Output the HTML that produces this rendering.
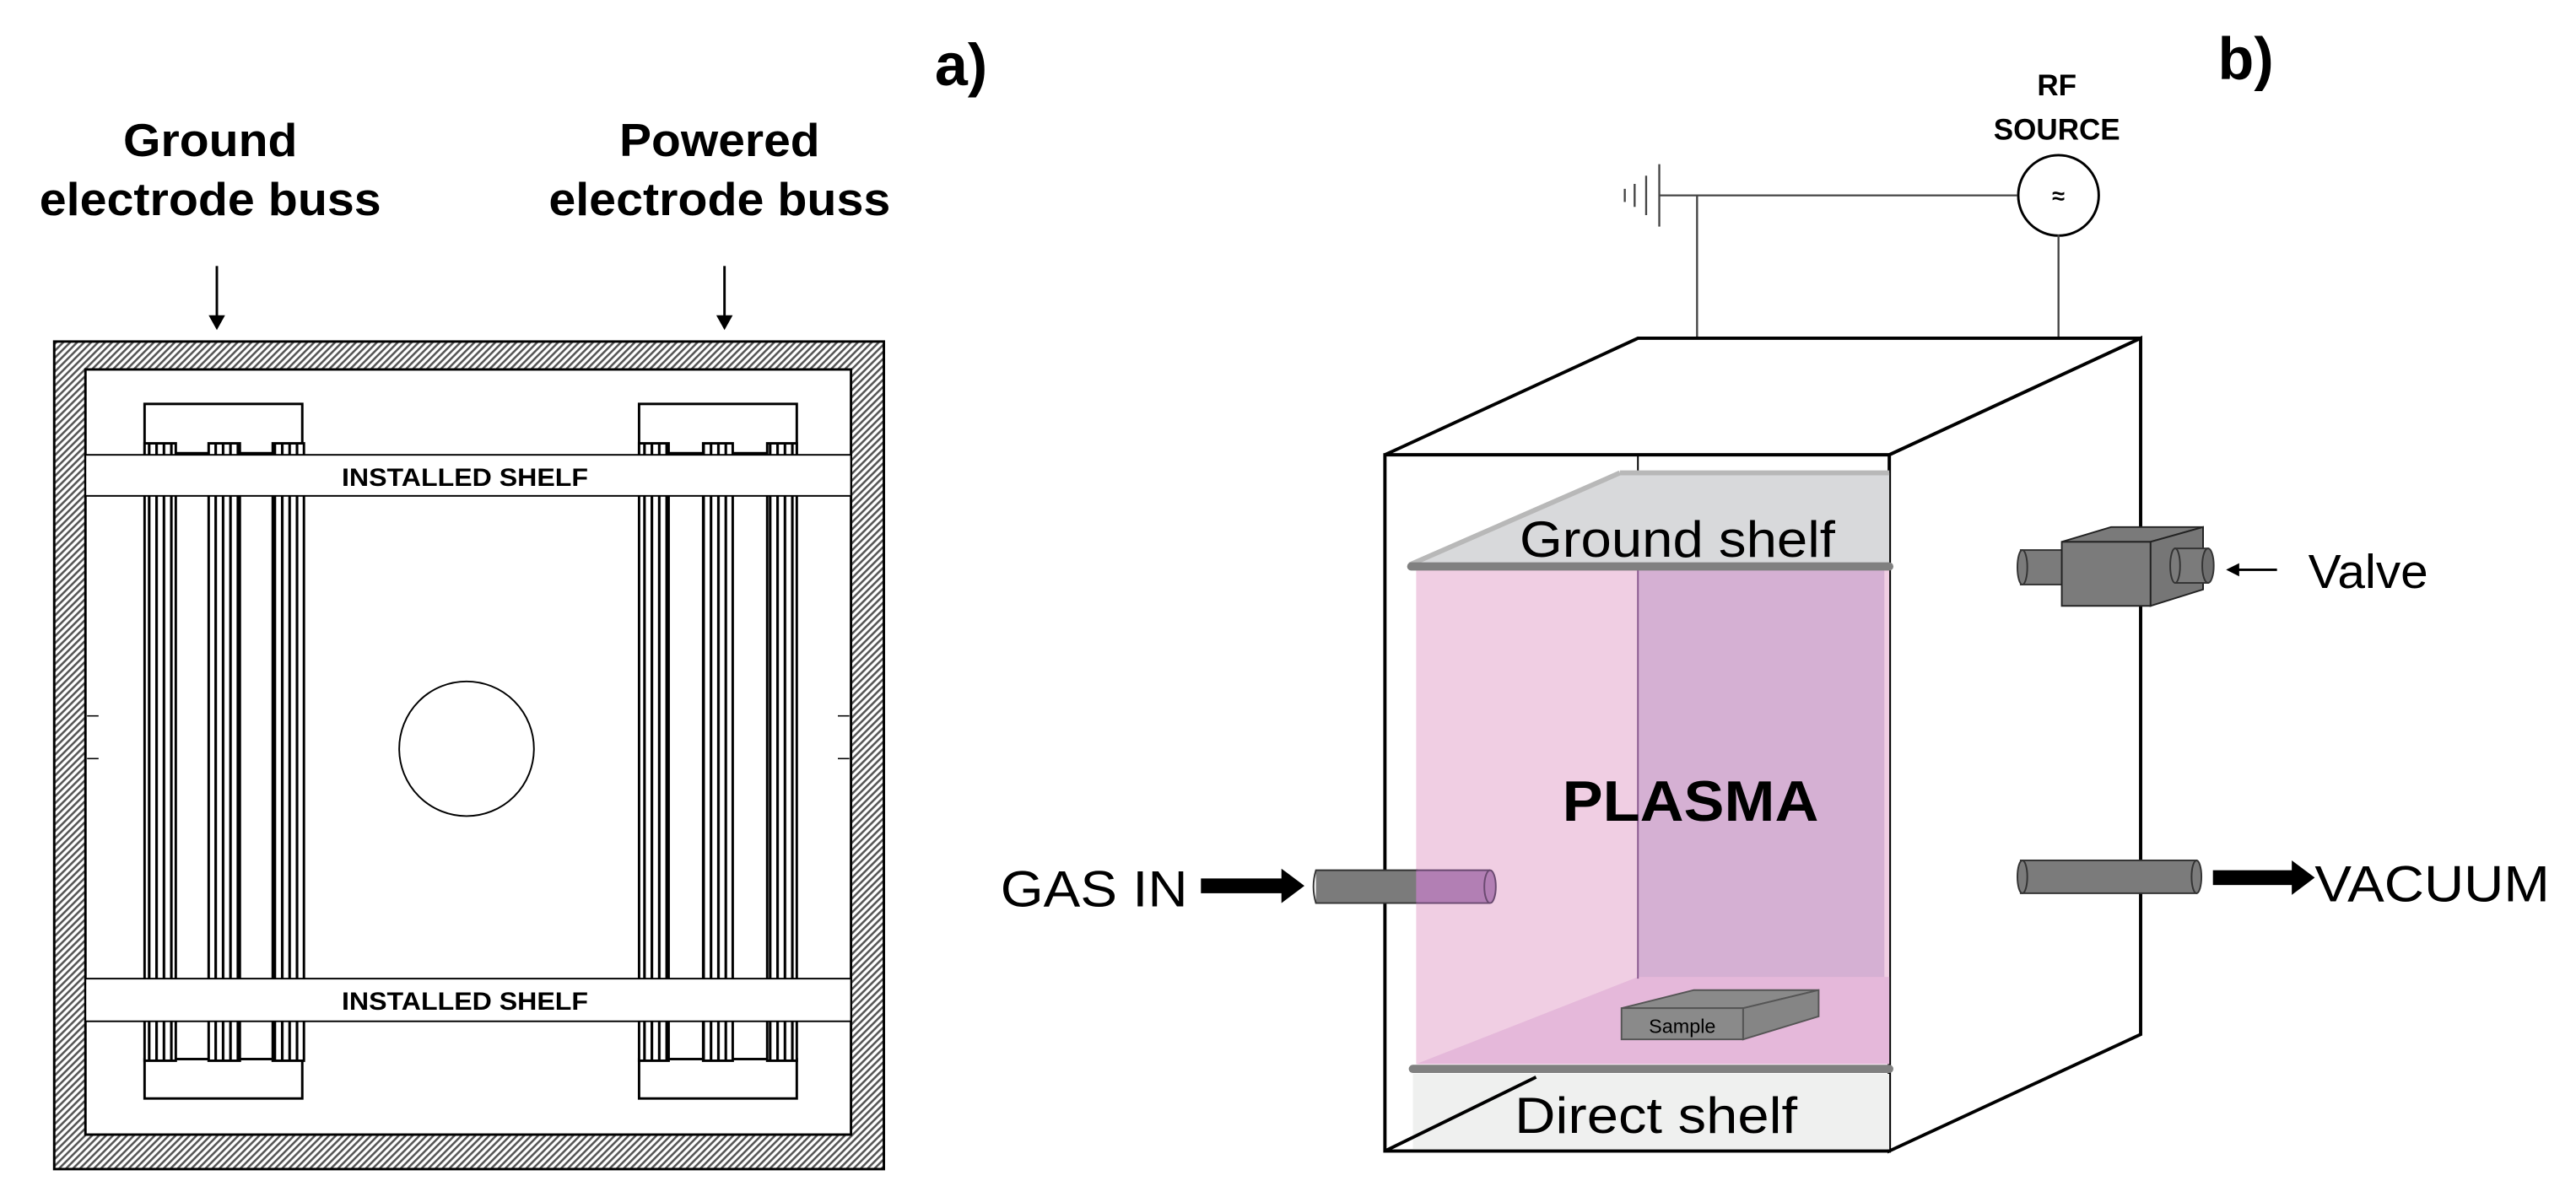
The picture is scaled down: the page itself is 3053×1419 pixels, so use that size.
<!DOCTYPE html>
<html><head><meta charset="utf-8"><style>
html,body{margin:0;padding:0;background:#fff;}
svg{display:block;}
text{font-family:"Liberation Sans",Arial,sans-serif;}
</style></head><body>
<svg width="3053" height="1419" viewBox="0 0 1568 729" preserveAspectRatio="none" xmlns="http://www.w3.org/2000/svg">
<defs>
<pattern id="hatch" width="3" height="3" patternUnits="userSpaceOnUse" patternTransform="rotate(45)">
<rect width="3" height="3" fill="#fff"/><rect width="1.3" height="3" fill="#555"/>
</pattern>
<pattern id="stripe" x="0" width="4.5" height="10" patternUnits="userSpaceOnUse">
<rect width="4.5" height="10" fill="#fff"/><rect width="1.6" height="10" fill="#000"/>
</pattern>
</defs>

<!-- Panel a -->
<text x="585" y="52" font-size="36" font-weight="bold" text-anchor="middle">a)</text>
<text x="128" y="95" font-size="28" font-weight="bold" text-anchor="middle" textLength="106" lengthAdjust="spacingAndGlyphs">Ground</text>
<text x="128" y="131" font-size="28" font-weight="bold" text-anchor="middle" textLength="208" lengthAdjust="spacingAndGlyphs">electrode buss</text>
<text x="438" y="95" font-size="28" font-weight="bold" text-anchor="middle" textLength="122" lengthAdjust="spacingAndGlyphs">Powered</text>
<text x="438" y="131" font-size="28" font-weight="bold" text-anchor="middle" textLength="208" lengthAdjust="spacingAndGlyphs">electrode buss</text>
<line x1="132" y1="162" x2="132" y2="194" stroke="#000" stroke-width="1.5"/>
<polygon points="127,192 137,192 132,201" fill="#000"/>
<line x1="441" y1="162" x2="441" y2="194" stroke="#000" stroke-width="1.5"/>
<polygon points="436,192 446,192 441,201" fill="#000"/>

<rect x="33" y="208" width="505" height="504" fill="url(#hatch)" stroke="#000" stroke-width="1.5"/>
<rect x="52" y="225" width="466" height="466" fill="#fff" stroke="#000" stroke-width="1.5"/>

<rect x="88" y="246" width="96" height="30" fill="#fff" stroke="#000" stroke-width="1.5"/>
<rect x="88" y="645" width="96" height="24" fill="#fff" stroke="#000" stroke-width="1.5"/>
<rect x="389" y="246" width="96" height="30" fill="#fff" stroke="#000" stroke-width="1.5"/>
<rect x="389" y="645" width="96" height="24" fill="#fff" stroke="#000" stroke-width="1.5"/>
<g stroke="#000" stroke-width="1.5" fill="url(#stripe)">
<rect x="88" y="270" width="19" height="376"/>
<rect x="127" y="270" width="19" height="376"/>
<rect x="166" y="270" width="19" height="376"/>
<rect x="389" y="270" width="18" height="376"/>
<rect x="428" y="270" width="18" height="376"/>
<rect x="467" y="270" width="18" height="376"/>
</g>
<rect x="52" y="277" width="466" height="25" fill="#fff" stroke="#000" stroke-width="1"/>
<rect x="52" y="596" width="466" height="26" fill="#fff" stroke="#000" stroke-width="1"/>
<text x="283" y="296" font-size="15" font-weight="bold" text-anchor="middle" textLength="150" lengthAdjust="spacingAndGlyphs">INSTALLED SHELF</text>
<text x="283" y="615" font-size="15" font-weight="bold" text-anchor="middle" textLength="150" lengthAdjust="spacingAndGlyphs">INSTALLED SHELF</text>
<ellipse cx="284" cy="456" rx="41" ry="41" fill="none" stroke="#000" stroke-width="1"/>
<g stroke="#000" stroke-width="0.8">
<line x1="53" y1="436" x2="60" y2="436"/><line x1="53" y1="462" x2="60" y2="462"/>
<line x1="510" y1="436" x2="517" y2="436"/><line x1="510" y1="462" x2="517" y2="462"/>
</g>

<!-- Panel b -->
<text x="1367" y="48" font-size="36" font-weight="bold" text-anchor="middle">b)</text>
<text x="1252" y="58" font-size="18" font-weight="bold" text-anchor="middle">RF</text>
<text x="1252" y="85" font-size="18" font-weight="bold" text-anchor="middle">SOURCE</text>
<circle cx="1253" cy="119" r="24.5" fill="#fff" stroke="#000" stroke-width="1.5"/>
<text x="1253" y="124" font-size="14" font-weight="bold" text-anchor="middle">≈</text>
<g stroke="#444" stroke-width="1.2">
<line x1="1010" y1="119" x2="1228" y2="119"/>
<line x1="1010" y1="100" x2="1010" y2="138"/>
<line x1="1002" y1="107" x2="1002" y2="131"/>
<line x1="995" y1="112" x2="995" y2="126"/>
<line x1="989" y1="115" x2="989" y2="123"/>
<line x1="1033" y1="119" x2="1033" y2="207"/>
<line x1="1253" y1="143" x2="1253" y2="207"/>
</g>

<polygon points="843,277 997,206 1303,206 1150,277" fill="#fff" stroke="#000" stroke-width="2"/>
<polygon points="1150,277 1303,206 1303,630 1150,701" fill="#fff" stroke="#000" stroke-width="2"/>
<rect x="843" y="277" width="307" height="424" fill="#fff" stroke="#000" stroke-width="2"/>
<line x1="997" y1="277" x2="997" y2="290" stroke="#000" stroke-width="1"/>

<rect x="860" y="654" width="290" height="46" fill="#eff0ef"/>
<rect x="862" y="346" width="288" height="302" fill="#f0cee3"/>
<rect x="997" y="346" width="150" height="250" fill="#d5b0d3"/>
<polygon points="862,648 997,595 1150,595 1150,648" fill="#e5b8da"/>
<line x1="997" y1="346" x2="997" y2="596" stroke="#8a5a90" stroke-width="1"/>
<polygon points="986,288 1150,288 1150,344 858,344" fill="#d8d9db"/>
<line x1="986" y1="288" x2="1150" y2="288" stroke="#b8b8b8" stroke-width="3"/>
<line x1="986" y1="288" x2="858" y2="344" stroke="#b8b8b8" stroke-width="3"/>
<line x1="859" y1="345" x2="1150" y2="345" stroke="#808080" stroke-width="5" stroke-linecap="round"/>
<line x1="860" y1="651" x2="1150" y2="651" stroke="#808080" stroke-width="5" stroke-linecap="round"/>
<line x1="843" y1="701" x2="935" y2="656" stroke="#000" stroke-width="2"/>
<text x="1021" y="339" font-size="31" text-anchor="middle" textLength="192" lengthAdjust="spacingAndGlyphs">Ground shelf</text>
<text x="1008" y="690" font-size="31" text-anchor="middle" textLength="172" lengthAdjust="spacingAndGlyphs">Direct shelf</text>
<text x="1029" y="500" font-size="35" font-weight="bold" text-anchor="middle" textLength="156" lengthAdjust="spacingAndGlyphs">PLASMA</text>

<polygon points="987,614 1031,603 1107,603 1061,614" fill="#8a8a8a" stroke="#555" stroke-width="1"/>
<polygon points="1061,614 1107,603 1107,619 1061,633" fill="#858585" stroke="#555" stroke-width="1"/>
<rect x="987" y="614" width="74" height="19" fill="#8a8a8a" stroke="#555" stroke-width="1"/>
<text x="1024" y="629" font-size="12" text-anchor="middle">Sample</text>

<text x="609" y="552" font-size="31" textLength="114" lengthAdjust="spacingAndGlyphs">GAS IN</text>
<rect x="731" y="535" width="52" height="9" fill="#000"/>
<polygon points="780,529 794,539.5 780,550" fill="#000"/>
<rect x="801" y="530" width="62" height="20" fill="#7b7b7b"/>
<rect x="862" y="530" width="46" height="20" fill="#b27fb4"/>
<path d="M863,530 H801 Q798,540 801,550 H863" fill="none" stroke="#333" stroke-width="1"/>
<path d="M862,530 H907 M862,550 H907" stroke="#6a4a70" stroke-width="1"/>
<ellipse cx="907" cy="540" rx="3.5" ry="10" fill="#b27fb4" stroke="#6a4a70" stroke-width="1"/>

<rect x="1230" y="524" width="107" height="20" fill="#7b7b7b" stroke="#333" stroke-width="1"/>
<ellipse cx="1231" cy="534" rx="3" ry="10" fill="#7b7b7b" stroke="#333" stroke-width="1"/>
<ellipse cx="1337" cy="534" rx="3" ry="10" fill="#7b7b7b" stroke="#333" stroke-width="1"/>
<rect x="1347" y="530" width="50" height="9" fill="#000"/>
<polygon points="1395,524 1409,534.5 1395,545" fill="#000"/>
<text x="1409" y="549" font-size="31" textLength="143" lengthAdjust="spacingAndGlyphs">VACUUM</text>

<rect x="1230" y="335" width="26" height="21" fill="#7b7b7b" stroke="#333" stroke-width="1"/>
<ellipse cx="1231" cy="345.5" rx="3" ry="10.5" fill="#7b7b7b" stroke="#333" stroke-width="1"/>
<polygon points="1255,330 1285,321 1341,321 1309,330" fill="#7a7a7a" stroke="#222" stroke-width="1"/>
<polygon points="1309,330 1341,321 1341,359 1309,369" fill="#767676" stroke="#222" stroke-width="1"/>
<rect x="1255" y="330" width="54" height="39" fill="#7b7b7b" stroke="#222" stroke-width="1"/>
<rect x="1324" y="334" width="20" height="21" fill="#7b7b7b" stroke="#333" stroke-width="1"/>
<ellipse cx="1324" cy="344.5" rx="3" ry="10.5" fill="#7b7b7b" stroke="#333" stroke-width="1"/>
<ellipse cx="1344" cy="344.5" rx="3.5" ry="10.5" fill="#6e6e6e" stroke="#333" stroke-width="1"/>
<line x1="1360" y1="347" x2="1386" y2="347" stroke="#000" stroke-width="1.5"/>
<polygon points="1355,347 1363,343 1363,351" fill="#000"/>
<text x="1405" y="358" font-size="29" textLength="73" lengthAdjust="spacingAndGlyphs">Valve</text>
</svg>
</body></html>
